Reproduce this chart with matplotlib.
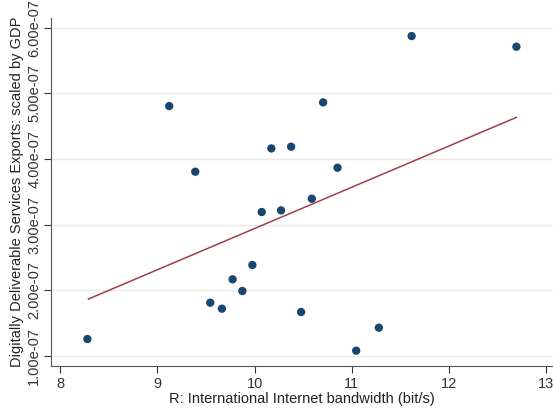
import numpy as np
import matplotlib
matplotlib.use("Agg")
import matplotlib.pyplot as plt
from matplotlib.ticker import FuncFormatter

plt.rcParams['font.family'] = ['Liberation Sans', 'DejaVu Sans']

bandwidth = [8.281, 9.122, 9.390, 9.544, 9.664, 9.774, 9.874, 9.977, 10.073, 10.172,
             10.272, 10.375, 10.478, 10.588, 10.704, 10.852, 11.044, 11.277, 11.614, 12.691]
exports_e7 = [1.259, 4.807, 3.807, 1.812, 1.721, 2.168, 1.990, 2.386, 3.193, 4.162,
              3.218, 4.188, 1.670, 3.396, 4.863, 3.868, 1.081, 1.431, 5.873, 5.711]
fit_x = [8.292, 12.691]
fit_y_e7 = [1.868, 4.635]
x_ticks = [8, 9, 10, 11, 12, 13]
y_ticks_e7 = [1, 2, 3, 4, 5, 6]

x = np.array(bandwidth)
y = np.array(exports_e7) * 1e-7

fig = plt.figure(figsize=(5.53, 4.08), dpi=100)
ax = fig.add_axes([0.0922, 0.103, 0.9078, 0.852])

ax.plot(fit_x, np.array(fit_y_e7) * 1e-7, color='#a0404a', lw=1.1, zorder=2)
ax.scatter(x, y, s=36, color='#1a476f', edgecolors='none', zorder=3)

ax.set_xlim(7.907, 13.067)
ax.set_ylim(0.848e-7, 6.143e-7)
ax.set_xticks(x_ticks)
ax.set_yticks([v * 1e-7 for v in y_ticks_e7])
ax.yaxis.set_major_formatter(FuncFormatter(lambda v, p: f"{v:.2e}"))
for lab in ax.get_yticklabels():
    lab.set_rotation(90)
    lab.set_va('center')
ax.tick_params(axis='both', labelsize=10.5, colors='#333333', length=5, width=0.8, direction='out')
ax.tick_params(axis='y', pad=2)
ax.tick_params(axis='x', pad=3)
ax.grid(axis='y', color='#eaeaea', lw=1.0)
ax.set_axisbelow(True)
for s in ['top', 'right']:
    ax.spines[s].set_visible(False)
for s in ['left', 'bottom']:
    ax.spines[s].set_color('#555555')
    ax.spines[s].set_linewidth(0.8)

ax.set_xlabel('R: International Internet bandwidth (bit/s)', fontsize=10.5, color='#222222', labelpad=1)
ax.set_ylabel('Digitally Deliverable Services Exports: scaled by GDP', fontsize=10.5, color='#222222', labelpad=2)

fig.savefig('out.png', dpi=100)
